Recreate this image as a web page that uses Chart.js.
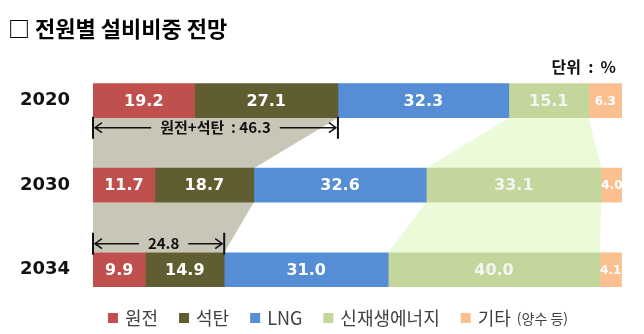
<!DOCTYPE html>
<html lang="ko">
<head>
<meta charset="utf-8">
<script src="https://cdn.jsdelivr.net/npm/chart.js@4.4.1/dist/chart.umd.min.js"></script>
<style>
  html, body { margin: 0; padding: 0; background: #fff; }
  #wrap { width: 644px; height: 334px; }
</style>
</head>
<body>
<div id="wrap"><canvas id="mixChart"></canvas></div>
<script>
// 전원별 설비비중 (%)
const years = ['2020', '2030', '2034'];
const nuclear = [19.2, 11.7, 9.9];
const coal = [27.1, 18.7, 14.9];
const lng = [32.3, 32.6, 31.0];
const renewable = [15.1, 33.1, 40.0];
const others = [6.3, 4.0, 4.1];

const sourceNames = ['원전', '석탄', 'LNG', '신재생에너지', '기타'];
const sourceNotes = ['', '', '', '', '(양수 등)'];
const sourceColors = ['#c0504d', '#605e31', '#558ed5', '#c3d69b', '#fac090'];
const labelColors = ['#ffffff', '#ffffff', '#ffffff', '#f4f4f4', '#ffffff'];
const labelSizes = [16, 16, 16, 16, 12];

// rows that get a "원전+석탄" bracket, and where it sits
const bracketRows = [0, 2];
const bracketSide = ['below', 'above'];

const KR = "'Noto Sans CJK KR', 'Noto Sans', sans-serif";
const NUM = "'DejaVu Sans', sans-serif";

const ctx = document.getElementById('mixChart').getContext('2d');

// shaded bands joining the coal+nuclear block and the renewables block between years
const bandPlugin = {
  id: 'bands',
  beforeDatasetsDraw(chart) {
    const c = chart.ctx;
    const band = (fromSet, toSet, color) => {
      const a = chart.getDatasetMeta(fromSet).data;
      const b = chart.getDatasetMeta(toSet).data;
      c.save();
      c.fillStyle = color;
      for (let i = 0; i < a.length - 1; i++) {
        const bottom = a[i].y + a[i].height / 2;
        const top = a[i + 1].y - a[i + 1].height / 2;
        c.beginPath();
        c.moveTo(a[i].base, bottom);
        c.lineTo(b[i].x, bottom);
        c.lineTo(b[i + 1].x, top);
        c.lineTo(a[i + 1].base, top);
        c.closePath();
        c.fill();
      }
      c.restore();
    };
    band(0, 1, '#c8c6b7');
    band(3, 3, '#ebfbd9');
  }
};

// value text inside each segment
const valuePlugin = {
  id: 'values',
  afterDatasetsDraw(chart) {
    const c = chart.ctx;
    const area = chart.chartArea;
    c.save();
    c.beginPath();
    c.rect(area.left, area.top, area.right - area.left, area.bottom - area.top);
    c.clip();
    c.textAlign = 'center';
    c.textBaseline = 'middle';
    chart.data.datasets.forEach((ds, di) => {
      c.font = 'bold ' + labelSizes[di] + 'px ' + NUM;
      c.fillStyle = labelColors[di];
      chart.getDatasetMeta(di).data.forEach((el, i) => {
        c.fillText(ds.data[i].toFixed(1), (el.x + el.base) / 2, el.y + 1);
      });
    });
    c.restore();
  }
};

// bracket with arrows spanning nuclear + coal
const bracketPlugin = {
  id: 'brackets',
  afterDatasetsDraw(chart) {
    const c = chart.ctx;
    const m0 = chart.getDatasetMeta(0).data;
    const m1 = chart.getDatasetMeta(1).data;
    c.save();
    c.strokeStyle = '#111';
    c.fillStyle = '#111';
    bracketRows.forEach((row, k) => {
      const x1 = m0[row].base;
      const x2 = m1[row].x;
      const half = m0[row].height / 2;
      const y = bracketSide[k] === 'below' ? m0[row].y + half + 10 : m0[row].y - half - 9;
      const sum = (nuclear[row] + coal[row]).toFixed(1);
      const text = k === 0 ? '원전+석탄  : ' + sum : sum;
      c.font = 'bold 15px ' + KR;
      c.textAlign = 'center';
      c.textBaseline = 'middle';
      const mid = (x1 + x2) / 2 + (k === 0 ? 0 : 5);
      const w = c.measureText(text).width;
      c.fillText(text, mid, y);

      c.lineWidth = 2;
      c.beginPath();
      c.moveTo(x1, y - 11); c.lineTo(x1, y + 11);
      c.moveTo(x2, y - 11); c.lineTo(x2, y + 11);
      c.stroke();

      c.lineWidth = 1.5;
      c.beginPath();
      c.moveTo(x1 + 2, y); c.lineTo(mid - w / 2 - 9, y);
      c.moveTo(mid + w / 2 + 9, y); c.lineTo(x2 - 2, y);
      c.moveTo(x1 + 9, y - 5); c.lineTo(x1 + 2, y); c.lineTo(x1 + 9, y + 5);
      c.moveTo(x2 - 9, y - 5); c.lineTo(x2 - 2, y); c.lineTo(x2 - 9, y + 5);
      c.stroke();
    });
    c.restore();
  }
};

// unit note and the legend row
const notesPlugin = {
  id: 'notes',
  afterDraw(chart) {
    const c = chart.ctx;
    c.save();
    c.fillStyle = '#111';
    c.font = 'bold 16px ' + KR;
    c.textAlign = 'right';
    c.textBaseline = 'middle';
    c.fillText('단위  :  %', 616, 67);

    const y = 318;
    const box = 10;
    const gap = 7;
    const spacing = 21;
    const nameFont = '18px ' + KR;
    const noteFont = '14px ' + KR;
    const widths = chart.data.datasets.map((ds, i) => {
      c.font = nameFont;
      let w = box + gap + c.measureText(ds.label).width;
      if (sourceNotes[i]) {
        c.font = noteFont;
        w += 6 + c.measureText(sourceNotes[i]).width;
      }
      return w;
    });
    const total = widths.reduce((s, w) => s + w, 0) + spacing * (widths.length - 1);
    let x = 338 - total / 2;
    c.textAlign = 'left';
    chart.data.datasets.forEach((ds, i) => {
      c.fillStyle = ds.backgroundColor;
      c.fillRect(x, y - box / 2, box, box);
      c.fillStyle = '#404040';
      c.font = nameFont;
      c.fillText(ds.label, x + box + gap, y);
      if (sourceNotes[i]) {
        const nx = x + box + gap + c.measureText(ds.label).width + 6;
        c.font = noteFont;
        c.fillText(sourceNotes[i], nx, y + 1);
      }
      x += widths[i] + spacing;
    });
    c.restore();
  }
};

const series = [nuclear, coal, lng, renewable, others];

new Chart(ctx, {
  type: 'bar',
  data: {
    labels: years,
    datasets: series.map((values, i) => ({
      label: sourceNames[i],
      data: values,
      backgroundColor: sourceColors[i],
      borderWidth: 0,
      barThickness: 34
    }))
  },
  options: {
    indexAxis: 'y',
    responsive: true,
    maintainAspectRatio: false,
    animation: false,
    layout: { padding: { left: 8, right: 22, bottom: 22 } },
    plugins: {
      legend: { display: false },
      tooltip: { enabled: false },
      title: {
        display: true,
        text: '□ 전원별 설비비중 전망',
        align: 'start',
        color: '#000',
        font: { family: KR, size: 22, weight: 'bold' },
        padding: { top: 15, bottom: 17 }
      }
    },
    scales: {
      x: { stacked: true, min: 0, max: 100, display: false },
      y: {
        stacked: true,
        grid: { display: false, drawTicks: false },
        border: { display: false },
        ticks: {
          color: '#111',
          padding: 23,
          font: { family: NUM, size: 18, weight: 'bold' }
        },
        afterFit(scale) {
          // year labels sit in the left gutter; keep the bar area at a fixed spot
          scale.width = 85;
          scale.paddingTop = 0;
          scale.paddingBottom = 0;
        }
      }
    }
  },
  plugins: [bandPlugin, valuePlugin, bracketPlugin, notesPlugin]
});
</script>
</body>
</html>
